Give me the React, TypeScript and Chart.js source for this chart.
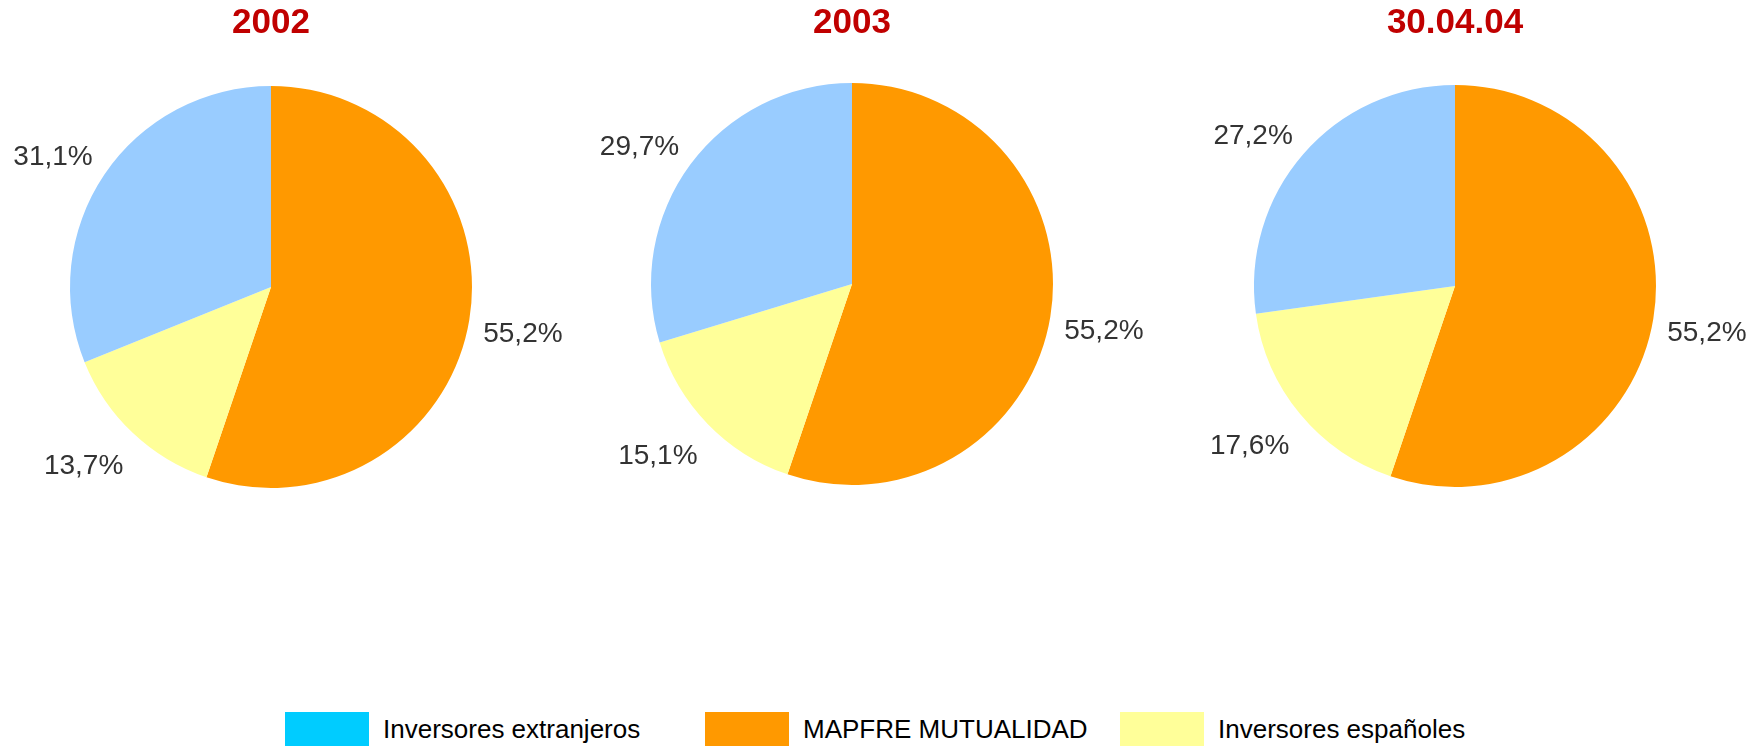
import React, { useEffect, useRef } from "react";
import { Chart, registerables } from "chart.js";

Chart.register(...registerables);

const categories = ["MAPFRE MUTUALIDAD", "Inversores españoles", "Inversores extranjeros"];
const periods = ["2002", "2003", "30.04.04"];
const values2002 = [55.2, 13.7, 31.1];
const values2003 = [55.2, 15.1, 29.7];
const values2004 = [55.2, 17.6, 27.2];
const sliceColors = ["#FF9900", "#FFFF99", "#99CCFF"];
const legendLabels = ["Inversores extranjeros", "MAPFRE MUTUALIDAD", "Inversores españoles"];
const legendColors = ["#00CCFF", "#FF9900", "#FFFF99"];

const FONT = '"Liberation Sans", Arial, Helvetica, sans-serif';

const fmt = (v: number) => v.toFixed(1).replace(".", ",") + "%";

const clamp = (v: number) => Math.max(-1, Math.min(1, v));

// Labels placed outside the slice end: anchor on a ring just outside the pie,
// with the text box pushed outward so it never overlaps the slice.
const outsideLabels = {
  id: "outsideLabels",
  afterDatasetsDraw(chart: any) {
    const ctx = chart.ctx;
    const meta = chart.getDatasetMeta(0);
    const ds = chart.data.datasets[0];
    ctx.save();
    ctx.font = `28px ${FONT}`;
    ctx.fillStyle = "#333333";
    ctx.textAlign = "center";
    ctx.textBaseline = "middle";
    meta.data.forEach((arc: any, i: number) => {
      const p = arc.getProps(["x", "y", "startAngle", "endAngle", "outerRadius"], true);
      const mid = (p.startAngle + p.endAngle) / 2;
      const dx = Math.cos(mid);
      const dy = Math.sin(mid);
      const text = fmt(ds.data[i]);
      const hw = ctx.measureText(text).width / 2;
      const hh = 16;
      const R = p.outerRadius * 1.07;
      const x = p.x + dx * R + hw * clamp(dx * 2);
      const y = p.y + dy * R + hh * clamp(dy * 2) + 7;
      ctx.fillText(text, x, y);
    });
    ctx.restore();
  },
};

const W = 600;
const H = 560;
const TITLE_H = 44;

function PieChart({ title, values, cx, cy }: { title: string; values: number[]; cx: number; cy: number }) {
  const ref = useRef<HTMLCanvasElement | null>(null);
  useEffect(() => {
    if (!ref.current) return;
    const chart = new Chart(ref.current, {
      type: "pie",
      data: {
        labels: categories,
        datasets: [
          {
            data: values,
            backgroundColor: sliceColors,
            borderWidth: 0,
            radius: 201,
          } as any,
        ],
      },
      options: {
        animation: false,
        responsive: false,
        devicePixelRatio: 1,
        layout: { padding: { top: 0, left: 0, right: 0, bottom: H + TITLE_H - 2 * cy } },
        plugins: {
          legend: { display: false },
          tooltip: { enabled: false },
          title: {
            display: true,
            text: title,
            color: "#C00000",
            font: { size: 35, weight: "bold", family: FONT, lineHeight: 1.2 },
            padding: { top: 2, bottom: 0 },
          },
        },
      } as any,
      plugins: [outsideLabels],
    });
    return () => chart.destroy();
  }, [title, values, cx, cy]);
  return (
    <canvas
      ref={ref}
      width={W}
      height={H}
      style={{ position: "absolute", left: cx - W / 2, top: 0, width: W, height: H }}
    />
  );
}

export default function App() {
  const seriesList = [values2002, values2003, values2004];
  const centers = [
    [271, 287],
    [852, 284],
    [1455, 286],
  ];
  const itemWidths = [420, 415, 420];
  return (
    <div
      style={{
        position: "absolute",
        left: 0,
        top: 0,
        width: 1758,
        height: 751,
        overflow: "hidden",
        background: "#ffffff",
      }}
    >
      {periods.map((p, i) => (
        <PieChart key={p} title={p} values={seriesList[i]} cx={centers[i][0]} cy={centers[i][1]} />
      ))}
      <div style={{ position: "absolute", left: 285, top: 712, display: "flex" }}>
        {legendLabels.map((l, i) => (
          <div key={l} style={{ width: itemWidths[i], height: 34, display: "flex", alignItems: "center" }}>
            <div style={{ width: 84, height: 34, background: legendColors[i], marginRight: 14, flex: "none" }} />
            <span style={{ fontFamily: FONT, fontSize: 26, color: "#000", lineHeight: "34px", whiteSpace: "nowrap" }}>
              {l}
            </span>
          </div>
        ))}
      </div>
    </div>
  );
}
